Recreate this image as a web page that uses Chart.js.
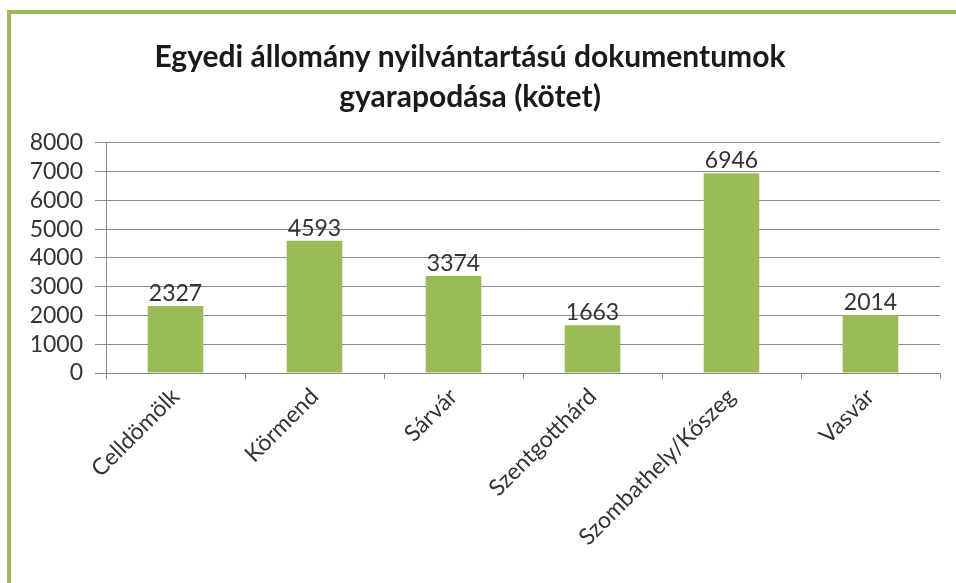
<!DOCTYPE html>
<html>
<head>
<meta charset="utf-8">
<script src="https://cdn.jsdelivr.net/npm/chart.js@4/dist/chart.umd.min.js"></script>
<style>
  html, body { margin: 0; padding: 0; background: #ffffff; }
  #frame { position: absolute; left: 7px; top: 10px; width: 949px; height: 573px;
           border-top: 4px solid #9bbb59; border-left: 4px solid #9bbb59; box-sizing: border-box; }
  #wrap { position: absolute; left: 0; top: 0; width: 956px; height: 583px; }
</style>
</head>
<body>
<div id="frame"></div>
<div id="wrap"><canvas id="c" width="956" height="583"></canvas></div>
<script>
const titleLines = ['Egyedi állomány nyilvántartású dokumentumok', 'gyarapodása (kötet)'];
const categories = ['Celldömölk', 'Körmend', 'Sárvár', 'Szentgotthárd', 'Szombathely/Kőszeg', 'Vasvár'];
const values = [2327, 4593, 3374, 1663, 6946, 2014];
const yTicks = [0, 1000, 2000, 3000, 4000, 5000, 6000, 7000, 8000];

const FONT = 'Lato, "Open Sans", sans-serif';
const TEXT = '#333333';
const GRID = '#8c8c8c';

const valueLabels = {
  id: 'valueLabels',
  afterDatasetsDraw(chart) {
    const ctx = chart.ctx;
    const meta = chart.getDatasetMeta(0);
    ctx.save();
    ctx.font = '23px ' + FONT;
    ctx.fillStyle = TEXT;
    ctx.textAlign = 'center';
    ctx.textBaseline = 'bottom';
    meta.data.forEach((el, i) => {
      ctx.fillText(String(values[i]), el.x, el.y - 1);
    });
    ctx.restore();
  }
};

new Chart(document.getElementById('c'), {
  type: 'bar',
  data: {
    labels: categories,
    datasets: [{
      data: values,
      backgroundColor: '#9bbb59',
      borderWidth: 0,
      categoryPercentage: 0.8,
      barPercentage: 0.5
    }]
  },
  options: {
    responsive: false,
    animation: false,
    devicePixelRatio: 1,
    layout: { padding: { left: 0, right: 16, top: 0, bottom: 0 } },
    plugins: {
      legend: { display: false },
      tooltip: { enabled: false },
      title: {
        display: true,
        text: titleLines,
        color: '#1a1a1a',
        font: { family: FONT, size: 30, weight: 'bold', lineHeight: 1.33 },
        padding: { top: 37, bottom: 26 }
      }
    },
    scales: {
      x: {
        afterFit(scale) { scale.height = 210; },
        grid: { display: true, drawOnChartArea: false, drawTicks: true, tickLength: 6, color: GRID, offset: true },
        border: { display: true, color: GRID, width: 1 },
        ticks: {
          color: TEXT,
          font: { family: FONT, size: 23 },
          maxRotation: 45, minRotation: 45,
          padding: 4,
          autoSkip: false
        }
      },
      y: {
        min: 0, max: 8000,
        afterFit(scale) { scale.width = 106; },
        afterBuildTicks(scale) { scale.ticks = yTicks.map(v => ({ value: v })); },
        grid: { color: GRID, tickLength: 11, drawTicks: true },
        border: { display: true, color: GRID, width: 1 },
        ticks: {
          color: TEXT,
          font: { family: FONT, size: 23 },
          padding: 12,
          autoSkip: false,
          callback: (v) => String(v)
        }
      }
    }
  },
  plugins: [valueLabels]
});
</script>
</body>
</html>
